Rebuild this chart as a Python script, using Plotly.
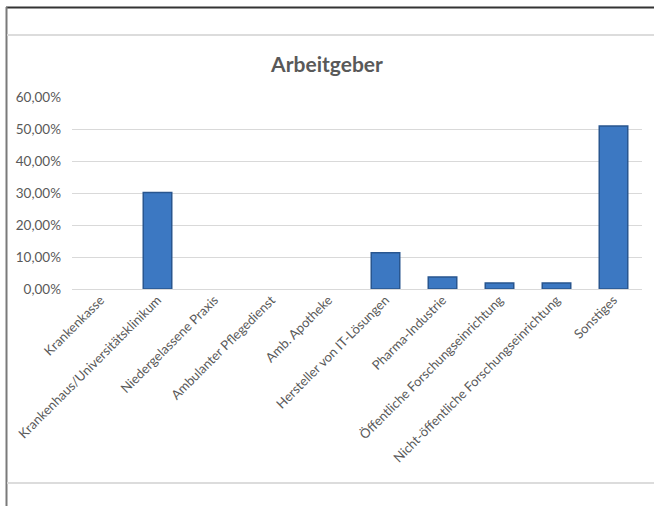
import plotly.graph_objects as go

categories = [
    "Krankenkasse",
    "Krankenhaus/Universitätsklinikum",
    "Niedergelassene Praxis",
    "Ambulanter Pflegedienst",
    "Amb. Apotheke",
    "Hersteller von IT-Lösungen",
    "Pharma-Industrie",
    "Öffentliche Forschungseinrichtung",
    "Nicht-öffentliche Forschungseinrichtung",
    "Sonstiges",
]
values = [0.0, 0.3019, 0.0, 0.0, 0.0, 0.1132, 0.0377, 0.0189, 0.0189, 0.5094]
tick_vals = [0, 0.1, 0.2, 0.3, 0.4, 0.5, 0.6]
tick_text = ["0,00%", "10,00%", "20,00%", "30,00%", "40,00%", "50,00%", "60,00%"]

W, H = 654, 506
L, R, T, B = 72, 12, 97, 217
pw, ph = W - L - R, H - T - B


def px(x):
    return (x - L) / pw


def py(y):
    return (H - B - y) / ph


line_widths = [1.5 if v > 0 else 0 for v in values]

fig = go.Figure()
fig.add_trace(go.Bar(
    x=categories, y=values, width=0.5,
    marker=dict(color="#3c78c2", line=dict(color="#29568f", width=line_widths)),
    hoverinfo="skip",
))

shapes = [
    dict(type="line", xref="paper", yref="paper", x0=px(6), x1=px(654), y0=py(7.5), y1=py(7.5),
         line=dict(color="#333333", width=2)),
    dict(type="line", xref="paper", yref="paper", x0=px(6.5), x1=px(6.5), y0=py(7), y1=py(506),
         line=dict(color="#7a7a7a", width=2)),
    dict(type="line", xref="paper", yref="paper", x0=px(7), x1=px(654), y0=py(35), y1=py(35),
         line=dict(color="#dcdcdc", width=2)),
    dict(type="line", xref="paper", yref="paper", x0=px(7), x1=px(654), y0=py(483), y1=py(483),
         line=dict(color="#dcdcdc", width=2)),
]

fig.update_layout(
    width=W, height=H,
    margin=dict(l=L, r=R, t=T, b=B),
    paper_bgcolor="white", plot_bgcolor="white",
    font=dict(family="Lato, Open Sans, sans-serif", color="#595959", size=13),
    title=dict(text="<b>Arbeitgeber</b>", x=0.5, xanchor="center", y=1 - 65 / H, yanchor="middle",
               font=dict(size=21, color="#595959", family="Lato, Open Sans, sans-serif")),
    showlegend=False,
    shapes=shapes,
    xaxis=dict(tickangle=-45, showgrid=False, showline=False, ticks="",
               tickfont=dict(size=13, color="#595959")),
    yaxis=dict(range=[0, 0.6], tickvals=tick_vals, ticktext=tick_text, showgrid=True,
               gridcolor="#d9d9d9", gridwidth=1, zeroline=True, zerolinecolor="#d9d9d9",
               zerolinewidth=1, showline=False, ticks="", ticklabelstandoff=10,
               tickfont=dict(size=13.5, color="#595959")),
)

fig.write_html("out.html")
